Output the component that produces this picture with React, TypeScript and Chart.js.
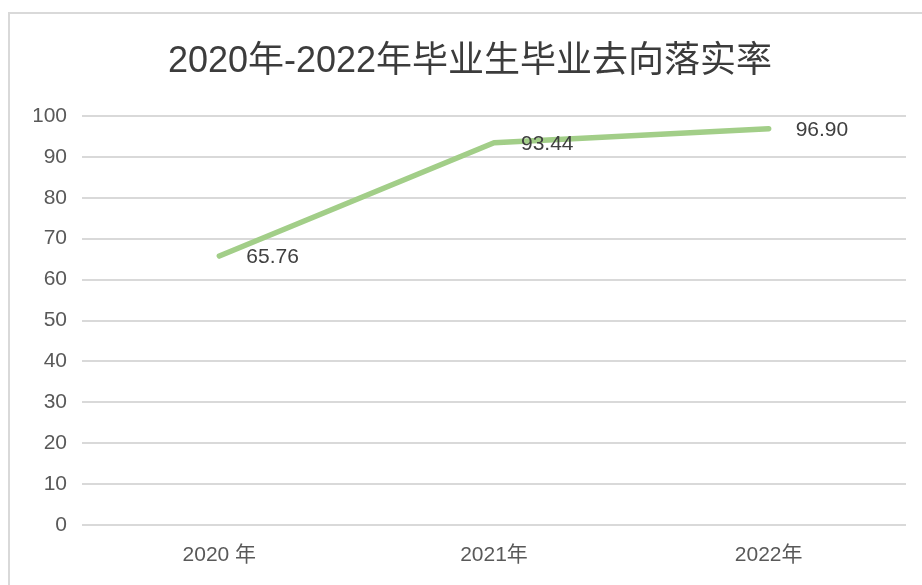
import React, { useEffect, useRef } from "react";
import { Chart, registerables } from "chart.js";

Chart.register(...registerables);

const TITLE = "2020年-2022年毕业生毕业去向落实率";
const CATEGORIES = ["2020 年", "2021年", "2022年"];
const VALUES = [65.76, 93.44, 96.9];
const Y_MIN = 0;
const Y_MAX = 100;
const Y_STEP = 10;

const FONT = "'Liberation Sans', 'Noto Sans CJK SC', sans-serif";

const dataLabelPlugin = {
  id: "dataLabels",
  afterDatasetsDraw(chart: any) {
    const ctx = chart.ctx;
    const meta = chart.getDatasetMeta(0);
    ctx.save();
    ctx.font = `21px ${FONT}`;
    ctx.fillStyle = "#404040";
    ctx.textAlign = "left";
    ctx.textBaseline = "middle";
    meta.data.forEach((pt: any, i: number) => {
      const v = chart.data.datasets[0].data[i] as number;
      ctx.fillText(v.toFixed(2), pt.x + 27, pt.y + 1.5);
    });
    ctx.restore();
  },
};

export default function App() {
  const ref = useRef<HTMLCanvasElement>(null);

  useEffect(() => {
    if (!ref.current) return;
    const chart = new Chart(ref.current, {
      type: "line",
      data: {
        labels: CATEGORIES,
        datasets: [
          {
            data: VALUES,
            borderColor: "#A2CE88",
            backgroundColor: "#A2CE88",
            borderWidth: 5.5,
            pointRadius: 0,
            tension: 0,
            borderCapStyle: "round",
            borderJoinStyle: "round",
            fill: false,
          },
        ],
      },
      options: {
        responsive: false,
        animation: false,
        layout: { padding: { top: 0, left: 34, right: 16, bottom: 16.8 } },
        plugins: {
          legend: { display: false },
          tooltip: { enabled: false },
          title: {
            display: true,
            text: TITLE,
            color: "#3C3C3C",
            font: { family: FONT, size: 36, weight: "normal" },
            padding: { top: 40, bottom: 32.8 },
          },
        },
        scales: {
          x: {
            offset: true,
            grid: { display: false, drawTicks: false },
            border: { display: false },
            ticks: {
              color: "#595959",
              font: { family: FONT, size: 21 },
              padding: 18,
              maxRotation: 0,
            },
            afterFit(scale: any) {
              scale.height = 43.2;
            },
          },
          y: {
            min: Y_MIN,
            max: Y_MAX,
            grid: { color: "#D9D9D9", lineWidth: 2, drawTicks: false },
            border: { display: false },
            ticks: {
              stepSize: Y_STEP,
              color: "#595959",
              font: { family: FONT, size: 21 },
              padding: 15,
            },
            afterFit(scale: any) {
              scale.width = 48;
            },
          },
        },
      },
      plugins: [dataLabelPlugin],
    });
    return () => chart.destroy();
  }, []);

  return (
    <>
      <div
        style={{
          position: "fixed",
          left: 8,
          top: 12,
          width: 1000,
          height: 700,
          borderLeft: "2px solid #D9D9D9",
          borderTop: "2px solid #D9D9D9",
          background: "#fff",
        }}
      />
      <canvas
        ref={ref}
        width={922}
        height={585}
        style={{ position: "fixed", left: 0, top: 0, width: 922, height: 585 }}
      />
    </>
  );
}
